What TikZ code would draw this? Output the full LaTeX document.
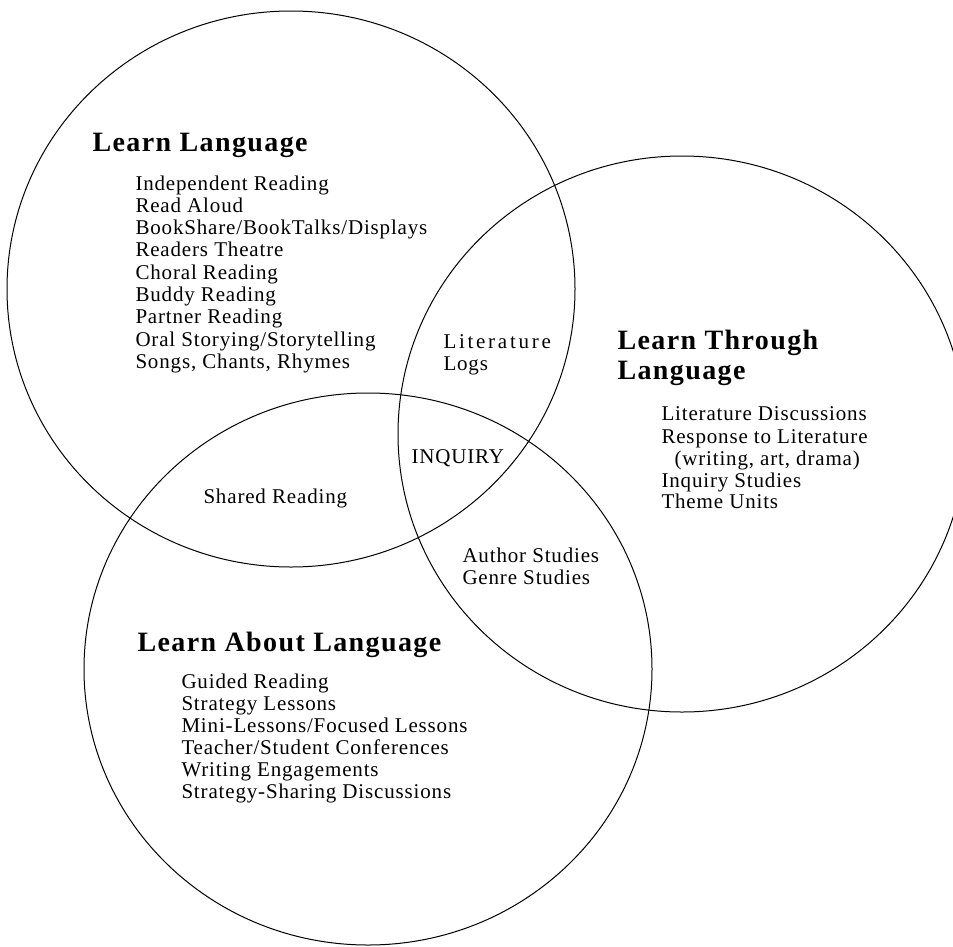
\documentclass[tikz,border=0pt]{standalone}
\usepackage{fontspec}
\setmainfont{Liberation Serif}
\newfontfamily\listfont[LetterSpace=4]{Liberation Serif}
\newfontfamily\headfont[LetterSpace=5]{Liberation Serif Bold}

\tikzset{every picture/.style={line width=0.75pt}}
\tikzset{
  headtxt/.style={anchor=base west, inner sep=0pt, font=\headfont\fontsize{21}{22.5}\selectfont},
  listtxt/.style={anchor=base west, inner sep=0pt, font=\listfont\fontsize{15.75}{16.7}\selectfont},
  widetxt/.style={listtxt, font=\listfont\addfontfeature{LetterSpace=13}\fontsize{15.75}{16.7}\selectfont}
}

\begin{document}
\begin{tikzpicture}[x=0.75pt,y=0.75pt,yscale=-1,xscale=1]
%set diagram frame: 953 wide, 946 high
\useasboundingbox (0,0) rectangle (953,946);

%Shape: Circle [Learn Language]
\draw   (7,289) .. controls (7,135.46) and (134.15,11) .. (291,11) .. controls (447.85,11) and (575,135.46) .. (575,289) .. controls (575,442.54) and (447.85,567) .. (291,567) .. controls (134.15,567) and (7,442.54) .. (7,289) -- cycle ;
%Shape: Circle [Learn Through Language]
\draw   (398,434) .. controls (398,280.46) and (525.15,156) .. (682,156) .. controls (838.85,156) and (966,280.46) .. (966,434) .. controls (966,587.54) and (838.85,712) .. (682,712) .. controls (525.15,712) and (398,587.54) .. (398,434) -- cycle ;
%Shape: Circle [Learn About Language]
\draw   (84,669) .. controls (84,516.57) and (211.15,393) .. (368,393) .. controls (524.85,393) and (652,516.57) .. (652,669) .. controls (652,821.43) and (524.85,945) .. (368,945) .. controls (211.15,945) and (84,821.43) .. (84,669) -- cycle ;

% Text Node
\draw (92,151) node [headtxt] (learnlang) {Learn Language};
% Text Node
\draw (135,190) node [listtxt] (indep) {Independent Reading};
% Text Node
\draw (135,212.3) node [listtxt] (aloud) {Read Aloud};
% Text Node
\draw (135,234.6) node [listtxt] (bookshare) {BookShare/BookTalks/Displays};
% Text Node
\draw (135,256.9) node [listtxt] (theatre) {Readers Theatre};
% Text Node
\draw (135,279.2) node [listtxt] (choral) {Choral Reading};
% Text Node
\draw (135,301.5) node [listtxt] (buddy) {Buddy Reading};
% Text Node
\draw (135,323.8) node [listtxt] (partner) {Partner Reading};
% Text Node
\draw (135,346.1) node [listtxt] (oral) {Oral Storying/Storytelling};
% Text Node
\draw (135,368.4) node [listtxt] (songs) {Songs, Chants, Rhymes};

% Text Node
\draw (443,348) node [widetxt] (litera) {Literature};
% Text Node
\draw (443,370) node [listtxt] (logs) {Logs};

% Text Node
\draw (617,349) node [headtxt] (learnthr) {Learn Through};
% Text Node
\draw (617,379) node [headtxt] (learnthrb) {Language};
% Text Node
\draw (661,420) node [listtxt] (litdisc) {Literature Discussions};
% Text Node
\draw (661,443) node [listtxt] (response) {Response to Literature};
% Text Node
\draw (674,465) node [listtxt] (writing) {(writing, art, drama)};
% Text Node
\draw (661,487) node [listtxt] (inqstud) {Inquiry Studies};
% Text Node
\draw (661,508) node [listtxt] (theme) {Theme Units};

% Text Node
\draw (411,463) node [listtxt] (inquiry) {INQUIRY};
% Text Node
\draw (203,503) node [listtxt] (shared) {Shared Reading};
% Text Node
\draw (462,562) node [listtxt] (author) {Author Studies};
% Text Node
\draw (462,584) node [listtxt] (genre) {Genre Studies};

% Text Node
\draw (137,651) node [headtxt] (learnabout) {Learn About Language};
% Text Node
\draw (181,688) node [listtxt] (guided) {Guided Reading};
% Text Node
\draw (181,710) node [listtxt] (strategy) {Strategy Lessons};
% Text Node
\draw (181,732) node [listtxt] (mini) {Mini-Lessons/Focused Lessons};
% Text Node
\draw (181,754) node [listtxt] (confer) {Teacher/Student Conferences};
% Text Node
\draw (181,776) node [listtxt] (engage) {Writing Engagements};
% Text Node
\draw (181,798) node [listtxt] (sharing) {Strategy-Sharing Discussions};

\end{tikzpicture}
\end{document}
